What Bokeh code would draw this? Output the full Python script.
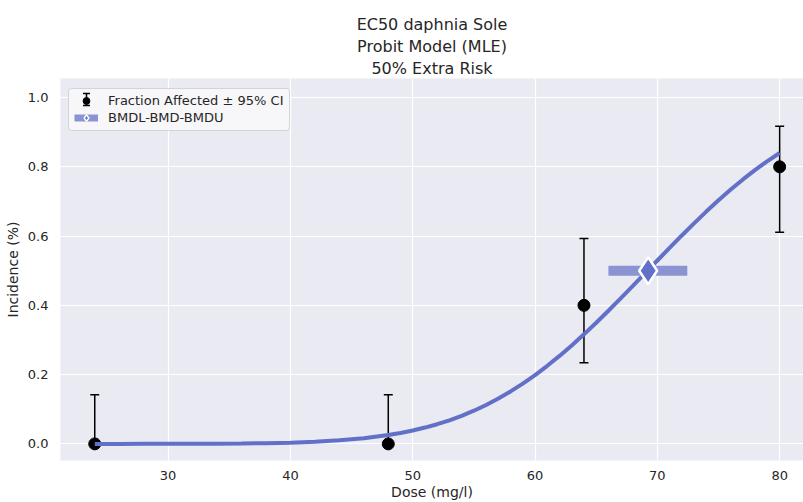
from bokeh.plotting import figure
from bokeh.models import (Range1d, Legend, LegendItem, FixedTicker, Title,
                          CustomJSTickFormatter, Whisker, TeeHead, BoxAnnotation)
from bokeh.embed import file_html
from bokeh.resources import INLINE

# ---- data ----
dose = [24, 48, 64, 80]
frac = [0.0, 0.0, 0.4, 0.8]
ci_low = [0.0, 0.0, 0.234, 0.611]
ci_high = [0.142, 0.142, 0.593, 0.917]

curve_dose = [24, 26, 28, 30, 32, 34, 36, 38, 40, 42, 44, 46, 48, 49, 50, 51, 52, 53,
              54, 55, 56, 57, 58, 59, 60, 61, 62, 63, 64, 65, 66, 67, 68, 69, 70,
              71, 72, 73, 74, 75, 76, 77, 78, 79, 80]
curve_resp = [0.0, 0.0, 0.0001, 0.0002, 0.0003, 0.0006, 0.0011, 0.0021, 0.0036,
              0.0062, 0.0102, 0.0164, 0.0256, 0.0316, 0.0387, 0.0471, 0.0568,
              0.0681, 0.081, 0.0958, 0.1124, 0.1309, 0.1515, 0.1741, 0.1987,
              0.2254, 0.254, 0.2843, 0.3163, 0.3497, 0.3844, 0.4199, 0.4562,
              0.4928, 0.5295, 0.5659, 0.6018, 0.6368, 0.6707, 0.7033, 0.7343,
              0.7636, 0.791, 0.8165, 0.8399]

bmdl = [66.0]
bmd = [69.25]
bmdu = [72.45]
bmr = [0.5]

x_ticks = [30, 40, 50, 60, 70, 80]
y_ticks = [0.0, 0.2, 0.4, 0.6, 0.8, 1.0]

title_lines = ["EC50 daphnia Sole", "Probit Model (MLE)", "50% Extra Risk"]

FONT = "DejaVu Sans"
TXT = "#262626"
BLUE = "#6271c7"
BLUE_LIGHT = "#8a94d3"

p = figure(width=803, height=502, output_backend="svg", toolbar_location=None,
           x_range=Range1d(21.2, 81.95), y_range=Range1d(-0.048, 1.055),
           min_border_left=60, min_border_right=0, min_border_top=0,
           min_border_bottom=0)

def style_title(t, standoff):
    t.align = "center"
    t.text_font = FONT
    t.text_font_size = "16px"
    t.text_font_style = "normal"
    t.text_color = TXT
    t.offset = 5
    t.standoff = standoff

# spacer above the three title lines
p.title.text = " "
p.title.text_font_size = "9px"
p.title.standoff = 0
for line, so in [(title_lines[2], 1), (title_lines[1], 1), (title_lines[0], 1)]:
    t = Title(text=line)
    style_title(t, so)
    p.add_layout(t, "above")

p.background_fill_color = "#EAEAF2"
p.border_fill_color = "white"
p.outline_line_color = None

for ax in (p.xaxis, p.yaxis):
    ax.axis_line_color = None
    ax.major_tick_line_color = None
    ax.minor_tick_line_color = None
    ax.major_label_text_font = FONT
    ax.major_label_text_font_size = "13px"
    ax.major_label_text_color = TXT
    ax.axis_label_text_font = FONT
    ax.axis_label_text_font_size = "14px"
    ax.axis_label_text_font_style = "normal"
    ax.axis_label_text_color = TXT

p.xaxis.ticker = FixedTicker(ticks=x_ticks)
p.yaxis.ticker = FixedTicker(ticks=y_ticks)
p.yaxis.formatter = CustomJSTickFormatter(code="return tick.toFixed(1);")
p.xaxis.axis_label = "Dose (mg/l)"
p.yaxis.axis_label = "Incidence (%)"
p.xaxis.major_label_standoff = 4
p.yaxis.major_label_standoff = 6
p.xaxis.axis_label_standoff = 1
p.yaxis.axis_label_standoff = 4

p.grid.grid_line_color = "white"
p.grid.grid_line_width = 1.2

# error bars
p.segment(x0=dose, y0=ci_low, x1=dose, y1=ci_high, line_color="black", line_width=1.5)
p.scatter(x=dose, y=ci_high, marker="dash", size=9, line_color="black", line_width=1.5)
p.scatter(x=dose, y=ci_low, marker="dash", size=9, line_color="black", line_width=1.5)
p.scatter(x=dose, y=frac, marker="circle", size=12, fill_color="black", line_color="black")

# legend-only glyphs (outside the visible range)
leg_pt = p.scatter(x=[-1000], y=[-1000], marker="circle", size=8,
                   fill_color="black", line_color="black")

# model curve
p.line(x=curve_dose, y=curve_resp, line_color=BLUE, line_width=4)

# BMD bar + marker
p.segment(x0=bmdl, y0=bmr, x1=bmdu, y1=bmr, line_color=BLUE_LIGHT, line_width=10)
p.scatter(x=bmd, y=bmr, marker="diamond", size=27, fill_color=BLUE,
          line_color="white", line_width=2.5)
leg_bar = p.segment(x0=[-1000], y0=[-1000], x1=[-999], y1=[-1000],
                    line_color=BLUE_LIGHT, line_width=7)
leg_dia = p.scatter(x=[-1000], y=[-1000], marker="diamond", size=14, fill_color=BLUE,
                    line_color="white", line_width=1.5)

# legend frame drawn as a box beneath the legend entries (screen units, frame-relative)
legend_box = BoxAnnotation(left=8, right=229, top=372, bottom=330,
                           left_units="screen", right_units="screen",
                           top_units="screen", bottom_units="screen",
                           fill_color="#F8F8FA", fill_alpha=0.9,
                           line_color="#CCCCCC", line_alpha=0.8, line_width=1,
                           border_radius=3, level="annotation", editable=False)
p.add_layout(legend_box)

# small error-bar icon inside the legend
icon = Whisker(base=26, lower=355, upper=367, dimension="height",
               base_units="screen", lower_units="screen", upper_units="screen",
               line_color="black", line_width=1.5, level="annotation",
               lower_head=TeeHead(size=7, line_color="black", line_width=1.5),
               upper_head=TeeHead(size=7, line_color="black", line_width=1.5))
p.add_layout(icon)

legend = Legend(items=[
    LegendItem(label="Fraction Affected \u00b1 95% CI", renderers=[leg_pt]),
    LegendItem(label="BMDL-BMD-BMDU", renderers=[leg_bar, leg_dia]),
], location="top_left")
legend.label_text_font = FONT
legend.label_text_font_size = "13px"
legend.label_text_color = TXT
legend.background_fill_alpha = 0.0
legend.border_line_color = None
legend.spacing = 0
legend.padding = 5
legend.margin = 14
legend.glyph_width = 24
legend.glyph_height = 17
legend.label_height = 17
legend.label_standoff = 10
p.add_layout(legend)

open("out.html", "w").write(file_html(p, INLINE))
